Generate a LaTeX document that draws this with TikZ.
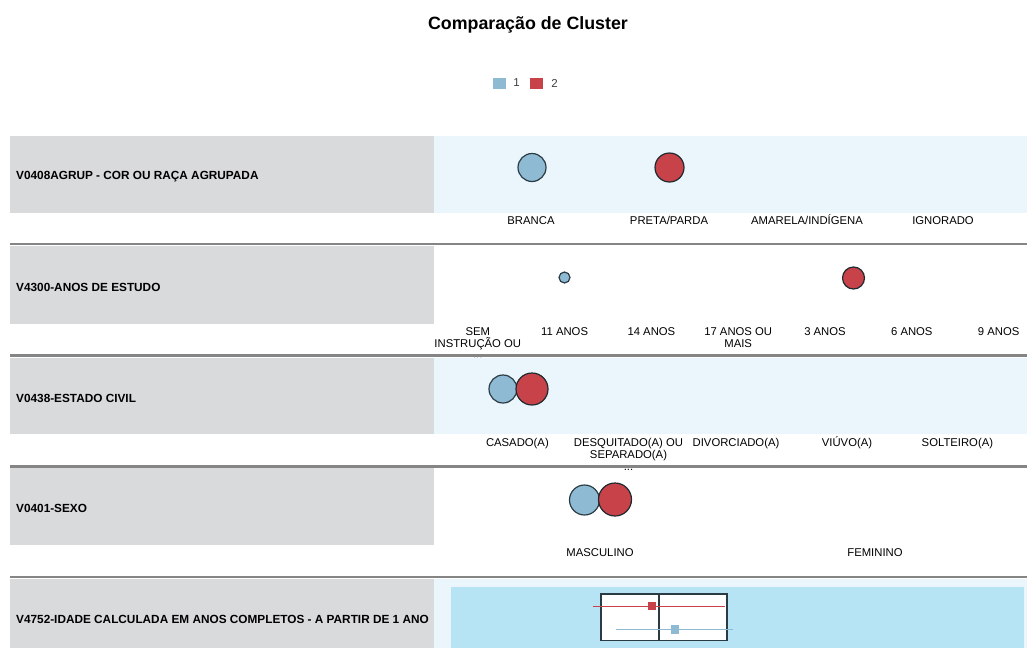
\documentclass[tikz,border=0pt]{standalone}
\usepackage{fontspec}
\setmainfont{Liberation Sans}
\usetikzlibrary{positioning}

\definecolor{bandblue}{HTML}{EAF5FC}
\definecolor{rowgrey}{HTML}{D9DADB}
\definecolor{linegrey}{HTML}{858585}
\definecolor{clustA}{HTML}{8EBBD3}
\definecolor{clustB}{HTML}{C8424A}
\definecolor{edgedark}{HTML}{2B3B44}
\definecolor{plotblue}{HTML}{B6E4F4}

\begin{document}
\begin{tikzpicture}[x=1pt, y=-1pt,
        varname/.style={anchor=west, inner sep=0pt, font=\fontsize{11.8}{13}\selectfont\bfseries},
        catlabel/.style={anchor=base, inner sep=0pt, align=center, font=\fontsize{11.3}{12}\selectfont},
        bubA/.style={circle, draw=edgedark, fill=clustA, line width=1.2pt, inner sep=0pt},
        bubB/.style={circle, draw=edgedark!70!black, fill=clustB, line width=1.2pt, inner sep=0pt},
        legsq/.style={minimum width=13pt, minimum height=11pt, inner sep=0pt},
        legtext/.style={inner sep=0pt, font=\fontsize{11.5}{12}\selectfont, text=black!75},
        rowline/.style={linegrey, line width=2.5pt}
    ]
        \useasboundingbox (0,0) rectangle (1027,648);

        % Title and legend
        \node[font=\fontsize{17.8}{20}\selectfont\bfseries] (title) at (528,25) {Comparação de Cluster};
        \node[legsq, fill=clustA] (leg1) at (499.5,83) {};
        \node[legtext, right=7pt of leg1] (leg1t) {1};
        \node[legsq, fill=clustB, right=24pt of leg1] (leg2) {};
        \node[legtext, right=7.5pt of leg2] (leg2t) {2};

        % Row 1
        \fill[rowgrey] (10,136) rectangle (434,212.5);
        \fill[bandblue] (434,136) rectangle (1027,212.5);
        \node[varname] (v1) at (16,177) {V0408AGRUP - COR OU RAÇA AGRUPADA};
        \node[bubA, minimum size=28pt] (r1a) at (532,167.5) {};
        \node[bubB, minimum size=29pt] (r1b) at (669.5,167.5) {};
        \node[catlabel] (r1c1) at (531,224) {BRANCA};
        \node[catlabel] (r1c2) at (669,224) {PRETA/PARDA};
        \node[catlabel] (r1c3) at (807,224) {AMARELA/INDÍGENA};
        \node[catlabel] (r1c4) at (943,224) {IGNORADO};

        % Row 2 (multi-line labels sit on their last line)
        \fill[rowgrey] (10,246) rectangle (434,323.5);
        \node[varname] (v2) at (16,287) {V4300-ANOS DE ESTUDO};
        \node[bubA, minimum size=11pt] (r2a) at (564.5,277.5) {};
        \node[bubB, minimum size=22pt] (r2b) at (853.5,278) {};
        \node[catlabel] (r2c1) at (477.8,359) {SEM\\INSTRUÇÃO OU\\...};
        \node[catlabel] (r2c2) at (564.6,335) {11 ANOS};
        \node[catlabel] (r2c3) at (651.4,335) {14 ANOS};
        \node[catlabel] (r2c4) at (738.2,347) {17 ANOS OU\\MAIS};
        \node[catlabel] (r2c5) at (825,335) {3 ANOS};
        \node[catlabel] (r2c6) at (911.8,335) {6 ANOS};
        \node[catlabel] (r2c7) at (998.6,335) {9 ANOS};

        % Row 3
        \fill[rowgrey] (10,357.5) rectangle (434,433.5);
        \fill[bandblue] (434,357.5) rectangle (1027,433.5);
        \node[varname] (v3) at (16,398) {V0438-ESTADO CIVIL};
        \node[bubA, minimum size=28pt] (r3a) at (503,389) {};
        \node[bubB, minimum size=32pt] (r3b) at (532,389) {};
        \node[catlabel] (r3c1) at (517.4,446) {CASADO(A)};
        \node[catlabel] (r3c2) at (628.5,470) {DESQUITADO(A) OU\\SEPARADO(A)\\...};
        \node[catlabel] (r3c3) at (736,446) {DIVORCIADO(A)};
        \node[catlabel] (r3c4) at (847,446) {VIÚVO(A)};
        \node[catlabel] (r3c5) at (957.4,446) {SOLTEIRO(A)};

        % Row 4
        \fill[rowgrey] (10,468) rectangle (434,544.5);
        \node[varname] (v4) at (16,508.5) {V0401-SEXO};
        \node[bubA, minimum size=30pt] (r4a) at (584.5,500) {};
        \node[bubB, minimum size=33pt] (r4b) at (615,499.5) {};
        \node[catlabel] (r4c1) at (600,556) {MASCULINO};
        \node[catlabel] (r4c2) at (875,556) {FEMININO};

        % Row 5
        \fill[rowgrey] (10,579) rectangle (434,648);
        \fill[bandblue] (434,579) rectangle (1027,648);
        \fill[plotblue] (451,587) rectangle (1024,648);
        \node[varname] (v5) at (16,619.5) {V4752-IDADE CALCULADA EM ANOS COMPLETOS - A PARTIR DE 1 ANO};
        \node[draw=edgedark, fill=white, line width=1.2pt, minimum width=126pt, minimum height=46.5pt, inner sep=0pt] (box) at (664,617.3) {};
        \draw[edgedark, line width=1.2pt] (659,594) -- (659,640.5);
        \coordinate (redlo) at (593,606);
        \coordinate (redhi) at (725,606);
        \coordinate (bluelo) at (616,629.5);
        \coordinate (bluehi) at (733,629.5);
        \draw[clustB, line width=1pt] (redlo) -- (redhi);
        \draw[clustA, line width=1pt] (bluelo) -- (bluehi);
        \node[fill=clustB, minimum size=8.5pt, inner sep=0pt] (redmean) at (652,606) {};
        \node[fill=clustA, minimum size=8.5pt, inner sep=0pt] (bluemean) at (675,629.5) {};

        % Row separators
        \draw[rowline] (10,244) -- (1027,244);
        \draw[rowline] (10,355.5) -- (1027,355.5);
        \draw[rowline] (10,466.5) -- (1027,466.5);
        \draw[rowline] (10,577) -- (1027,577);

    \end{tikzpicture}
\end{document}
